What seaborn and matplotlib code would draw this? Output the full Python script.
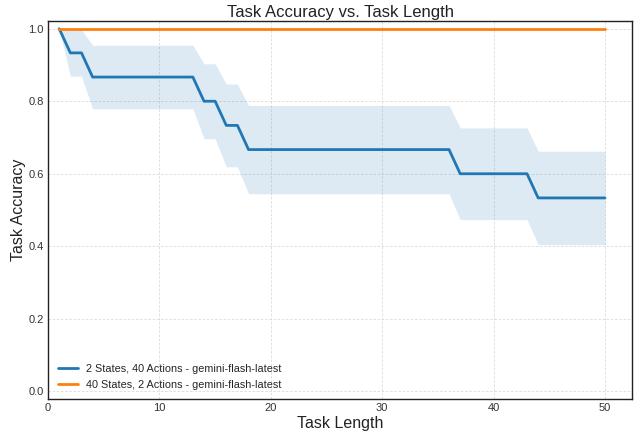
import numpy as np
import pandas as pd
import matplotlib
matplotlib.use("Agg")
import matplotlib.pyplot as plt
import seaborn as sns

# Task lengths evaluated and number of trials per length
task_lengths = list(range(1, 51))
n_trials = 15

# Successful trials (out of 15) at each task length
successes_2s_40a = ([15, 14, 14] + [13] * 10 + [12, 12, 11, 11] + [10] * 19
                    + [9] * 7 + [8] * 7)
successes_40s_2a = [15] * 50

series_names = [
    "2 States, 40 Actions - gemini-flash-latest",
    "40 States, 2 Actions - gemini-flash-latest",
]
series_successes = [successes_2s_40a, successes_40s_2a]
colors = ["#1f77b4", "#ff7f0e"]

rows = []
for name, succ in zip(series_names, series_successes):
    for length, s in zip(task_lengths, succ):
        rows.append({"Task Length": length, "Task Accuracy": s / n_trials, "Series": name})
df = pd.DataFrame(rows)

sns.set_style("whitegrid", {"grid.linestyle": "--", "grid.color": "#d0d0d0",
                            "axes.edgecolor": "#222222"})
plt.rcParams["font.family"] = ["Liberation Sans", "DejaVu Sans"]

fig = plt.figure(figsize=(6.41, 4.32), dpi=100)
ax = fig.add_axes([0.075, 0.0757, 0.9114, 0.8763])

sns.lineplot(data=df, x="Task Length", y="Task Accuracy", hue="Series",
             hue_order=series_names, palette=colors, linewidth=2, ax=ax,
             errorbar=None)

# Standard-error band around each accuracy curve
for name, color in zip(series_names, colors):
    sub = df[df["Series"] == name]
    p = sub["Task Accuracy"].to_numpy()
    se = np.sqrt(p * (1 - p) / n_trials)
    ax.fill_between(sub["Task Length"], p - se, p + se, color=color,
                    alpha=0.15, linewidth=0)

ax.set_xlim(0, 52.45)
ax.set_ylim(-0.022, 1.022)
ax.set_xticks([0, 10, 20, 30, 40, 50])
ax.set_yticks([0.0, 0.2, 0.4, 0.6, 0.8, 1.0])
ax.tick_params(labelsize=8, colors="#333333", length=0, pad=3)
ax.grid(True, linestyle=(0, (3, 2)), color="#dadada", linewidth=0.6)
for sp in ax.spines.values():
    sp.set_color("#222222")
    sp.set_linewidth(1.0)

ax.set_title("Task Accuracy vs. Task Length", fontsize=12, color="#222222", pad=3)
ax.set_xlabel("Task Length", fontsize=11.5, color="#222222", labelpad=2)
ax.set_ylabel("Task Accuracy", fontsize=11.5, color="#222222", labelpad=2)

ax.legend(loc="lower left", frameon=False, fontsize=7.8, title=None,
          borderaxespad=0.5, handlelength=1.9, handletextpad=0.7)

fig.savefig("out.png", dpi=100)
